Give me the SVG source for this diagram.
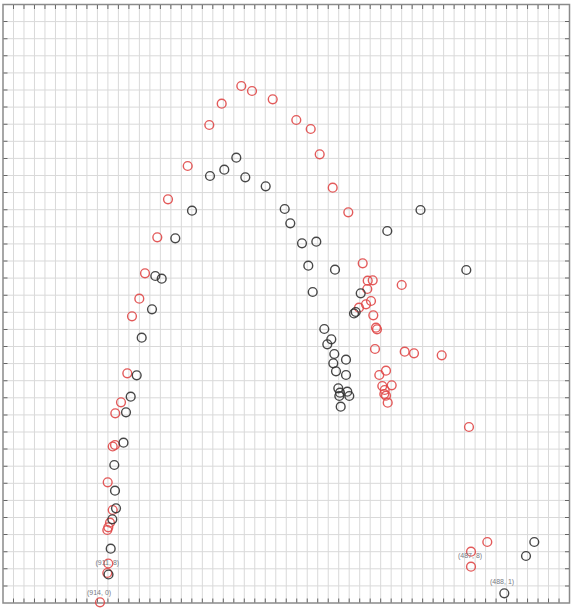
<svg xmlns="http://www.w3.org/2000/svg" width="575" height="610" viewBox="0 0 575 610">
<style>
.grid{stroke:#d9d9d9;stroke-width:1;fill:none}
.frame{stroke:#8a8a8a;stroke-width:1.5;fill:none}
.tick{stroke:#666;fill:none}
.r{fill:none;stroke:#e04848;stroke-width:1.4;stroke-opacity:0.9}
.k{fill:none;stroke:#333;stroke-width:1.4;stroke-opacity:0.9}
.lbl{font-family:"Liberation Sans",Arial,sans-serif;font-size:7px;fill:#777a84}
</style>
<rect width="575" height="610" fill="#ffffff"/>
<g id="grid">
<path class="grid" d="M13.49 4.5V603M23.98 4.5V603M34.47 4.5V603M44.96 4.5V603M55.46 4.5V603M65.95 4.5V603M76.44 4.5V603M86.93 4.5V603M97.42 4.5V603M107.91 4.5V603M118.4 4.5V603M128.89 4.5V603M139.38 4.5V603M149.87 4.5V603M160.37 4.5V603M170.86 4.5V603M181.35 4.5V603M191.84 4.5V603M202.33 4.5V603M212.82 4.5V603M223.31 4.5V603M233.8 4.5V603M244.29 4.5V603M254.78 4.5V603M265.28 4.5V603M275.77 4.5V603M286.26 4.5V603M296.75 4.5V603M307.24 4.5V603M317.73 4.5V603M328.22 4.5V603M338.71 4.5V603M349.2 4.5V603M359.69 4.5V603M370.19 4.5V603M380.68 4.5V603M391.17 4.5V603M401.66 4.5V603M412.15 4.5V603M422.64 4.5V603M433.13 4.5V603M443.62 4.5V603M454.11 4.5V603M464.6 4.5V603M475.1 4.5V603M485.59 4.5V603M496.08 4.5V603M506.57 4.5V603M517.06 4.5V603M527.55 4.5V603M538.04 4.5V603M548.53 4.5V603M559.02 4.5V603"/>
<path class="grid" d="M3 21.6H569.5M3 38.7H569.5M3 55.8H569.5M3 72.9H569.5M3 90H569.5M3 107.1H569.5M3 124.2H569.5M3 141.3H569.5M3 158.4H569.5M3 175.5H569.5M3 192.6H569.5M3 209.7H569.5M3 226.8H569.5M3 243.9H569.5M3 261H569.5M3 278.1H569.5M3 295.2H569.5M3 312.3H569.5M3 329.4H569.5M3 346.5H569.5M3 363.6H569.5M3 380.7H569.5M3 397.8H569.5M3 414.9H569.5M3 432H569.5M3 449.1H569.5M3 466.2H569.5M3 483.3H569.5M3 500.4H569.5M3 517.5H569.5M3 534.6H569.5M3 551.7H569.5M3 568.8H569.5M3 585.9H569.5"/>
<rect class="frame" x="3" y="4.5" width="566.5" height="598.5"/>
<line class="tick" x1="12.99" y1="7" x2="569" y2="7" stroke-width="4" stroke-dasharray="1 9.491"/>
<line class="tick" x1="12.99" y1="600.5" x2="569" y2="600.5" stroke-width="4" stroke-dasharray="1 9.491"/>
<line class="tick" x1="5.5" y1="21.1" x2="5.5" y2="602" stroke-width="4" stroke-dasharray="1 16.1"/>
<line class="tick" x1="567" y1="21.1" x2="567" y2="602" stroke-width="4" stroke-dasharray="1 16.1"/>
</g>
<g id="series-red">
<circle class="r" cx="241.3" cy="86" r="4.4"/>
<circle class="r" cx="252" cy="91" r="4.4"/>
<circle class="r" cx="221.7" cy="103.7" r="4.4"/>
<circle class="r" cx="272.7" cy="99.3" r="4.4"/>
<circle class="r" cx="296.3" cy="120" r="4.4"/>
<circle class="r" cx="310.7" cy="129" r="4.4"/>
<circle class="r" cx="209.3" cy="125" r="4.4"/>
<circle class="r" cx="319.7" cy="154.3" r="4.4"/>
<circle class="r" cx="187.7" cy="166" r="4.4"/>
<circle class="r" cx="332.7" cy="187.7" r="4.4"/>
<circle class="r" cx="168" cy="199.3" r="4.4"/>
<circle class="r" cx="348.3" cy="212.3" r="4.4"/>
<circle class="r" cx="157.3" cy="237.3" r="4.4"/>
<circle class="r" cx="362.7" cy="263.3" r="4.4"/>
<circle class="r" cx="367.7" cy="280.7" r="4.4"/>
<circle class="r" cx="372.7" cy="280.3" r="4.4"/>
<circle class="r" cx="401.7" cy="285" r="4.4"/>
<circle class="r" cx="367.3" cy="289" r="4.4"/>
<circle class="r" cx="371" cy="301" r="4.4"/>
<circle class="r" cx="366" cy="304.3" r="4.4"/>
<circle class="r" cx="359" cy="307.7" r="4.4"/>
<circle class="r" cx="373.3" cy="315.3" r="4.4"/>
<circle class="r" cx="376" cy="327.7" r="4.4"/>
<circle class="r" cx="377" cy="329.3" r="4.4"/>
<circle class="r" cx="375" cy="349" r="4.4"/>
<circle class="r" cx="404.7" cy="351.7" r="4.4"/>
<circle class="r" cx="414" cy="353.3" r="4.4"/>
<circle class="r" cx="441.7" cy="355.3" r="4.4"/>
<circle class="r" cx="386" cy="370.7" r="4.4"/>
<circle class="r" cx="379.3" cy="375" r="4.4"/>
<circle class="r" cx="382.3" cy="386" r="4.4"/>
<circle class="r" cx="391.7" cy="385.3" r="4.4"/>
<circle class="r" cx="384.7" cy="390" r="4.4"/>
<circle class="r" cx="384.3" cy="394" r="4.4"/>
<circle class="r" cx="386" cy="395.7" r="4.4"/>
<circle class="r" cx="387.7" cy="402.7" r="4.4"/>
<circle class="r" cx="145" cy="273.3" r="4.4"/>
<circle class="r" cx="139.3" cy="298.7" r="4.4"/>
<circle class="r" cx="132" cy="316.3" r="4.4"/>
<circle class="r" cx="127.3" cy="373.3" r="4.4"/>
<circle class="r" cx="121" cy="402.3" r="4.4"/>
<circle class="r" cx="115.3" cy="413.3" r="4.4"/>
<circle class="r" cx="115" cy="445" r="4.4"/>
<circle class="r" cx="112.7" cy="446.5" r="4.4"/>
<circle class="r" cx="107.7" cy="482.3" r="4.4"/>
<circle class="r" cx="112.7" cy="510" r="4.4"/>
<circle class="r" cx="110" cy="522.7" r="4.4"/>
<circle class="r" cx="108.3" cy="527.3" r="4.4"/>
<circle class="r" cx="107.3" cy="530" r="4.4"/>
<circle class="r" cx="108.3" cy="563.5" r="4.4"/>
<circle class="r" cx="107.3" cy="573" r="4.4"/>
<circle class="r" cx="100" cy="602.3" r="4.4"/>
<circle class="r" cx="469" cy="427" r="4.4"/>
<circle class="r" cx="487.3" cy="542" r="4.4"/>
<circle class="r" cx="471" cy="551.7" r="4.4"/>
<circle class="r" cx="471" cy="566.7" r="4.4"/>
</g>
<g id="series-black">
<circle class="k" cx="236.3" cy="157.7" r="4.4"/>
<circle class="k" cx="224.3" cy="169.7" r="4.4"/>
<circle class="k" cx="210" cy="176" r="4.4"/>
<circle class="k" cx="245.3" cy="177.3" r="4.4"/>
<circle class="k" cx="265.7" cy="186.3" r="4.4"/>
<circle class="k" cx="192" cy="210.7" r="4.4"/>
<circle class="k" cx="284.7" cy="209" r="4.4"/>
<circle class="k" cx="290.3" cy="223.3" r="4.4"/>
<circle class="k" cx="420.5" cy="210" r="4.4"/>
<circle class="k" cx="175.3" cy="238.3" r="4.4"/>
<circle class="k" cx="302" cy="243.3" r="4.4"/>
<circle class="k" cx="316.3" cy="241.7" r="4.4"/>
<circle class="k" cx="387.3" cy="231" r="4.4"/>
<circle class="k" cx="466.3" cy="270" r="4.4"/>
<circle class="k" cx="308.3" cy="265.7" r="4.4"/>
<circle class="k" cx="335" cy="269.7" r="4.4"/>
<circle class="k" cx="312.7" cy="292" r="4.4"/>
<circle class="k" cx="360.7" cy="293.3" r="4.4"/>
<circle class="k" cx="355.7" cy="312" r="4.4"/>
<circle class="k" cx="354" cy="313.5" r="4.4"/>
<circle class="k" cx="324.3" cy="329" r="4.4"/>
<circle class="k" cx="331.3" cy="339.3" r="4.4"/>
<circle class="k" cx="327.3" cy="344.3" r="4.4"/>
<circle class="k" cx="334.3" cy="354" r="4.4"/>
<circle class="k" cx="346" cy="359.7" r="4.4"/>
<circle class="k" cx="333.3" cy="363.3" r="4.4"/>
<circle class="k" cx="336" cy="371.3" r="4.4"/>
<circle class="k" cx="346" cy="375" r="4.4"/>
<circle class="k" cx="338.3" cy="388.3" r="4.4"/>
<circle class="k" cx="340" cy="392.7" r="4.4"/>
<circle class="k" cx="347.3" cy="391.7" r="4.4"/>
<circle class="k" cx="349.3" cy="396" r="4.4"/>
<circle class="k" cx="339.3" cy="396" r="4.4"/>
<circle class="k" cx="340.7" cy="406.7" r="4.4"/>
<circle class="k" cx="155.3" cy="276" r="4.4"/>
<circle class="k" cx="161.7" cy="278.7" r="4.4"/>
<circle class="k" cx="152" cy="309.3" r="4.4"/>
<circle class="k" cx="141.7" cy="337.7" r="4.4"/>
<circle class="k" cx="136.7" cy="375.3" r="4.4"/>
<circle class="k" cx="130.7" cy="396.7" r="4.4"/>
<circle class="k" cx="126" cy="412.3" r="4.4"/>
<circle class="k" cx="123.5" cy="442.7" r="4.4"/>
<circle class="k" cx="114.3" cy="465" r="4.4"/>
<circle class="k" cx="115" cy="490.7" r="4.4"/>
<circle class="k" cx="116" cy="508.3" r="4.4"/>
<circle class="k" cx="112.3" cy="519.3" r="4.4"/>
<circle class="k" cx="110.7" cy="548.7" r="4.4"/>
<circle class="k" cx="108.5" cy="574.5" r="4.4"/>
<circle class="k" cx="534.3" cy="542" r="4.4"/>
<circle class="k" cx="526" cy="556" r="4.4"/>
<circle class="k" cx="504.3" cy="593.3" r="4.4"/>
</g>
<g id="labels">
<text class="lbl" x="95.5" y="564.5">(911, 8)</text>
<text class="lbl" x="87" y="594.5">(914, 0)</text>
<text class="lbl" x="458" y="557.5">(487, 8)</text>
<text class="lbl" x="490" y="584">(488, 1)</text>
</g>
</svg>
